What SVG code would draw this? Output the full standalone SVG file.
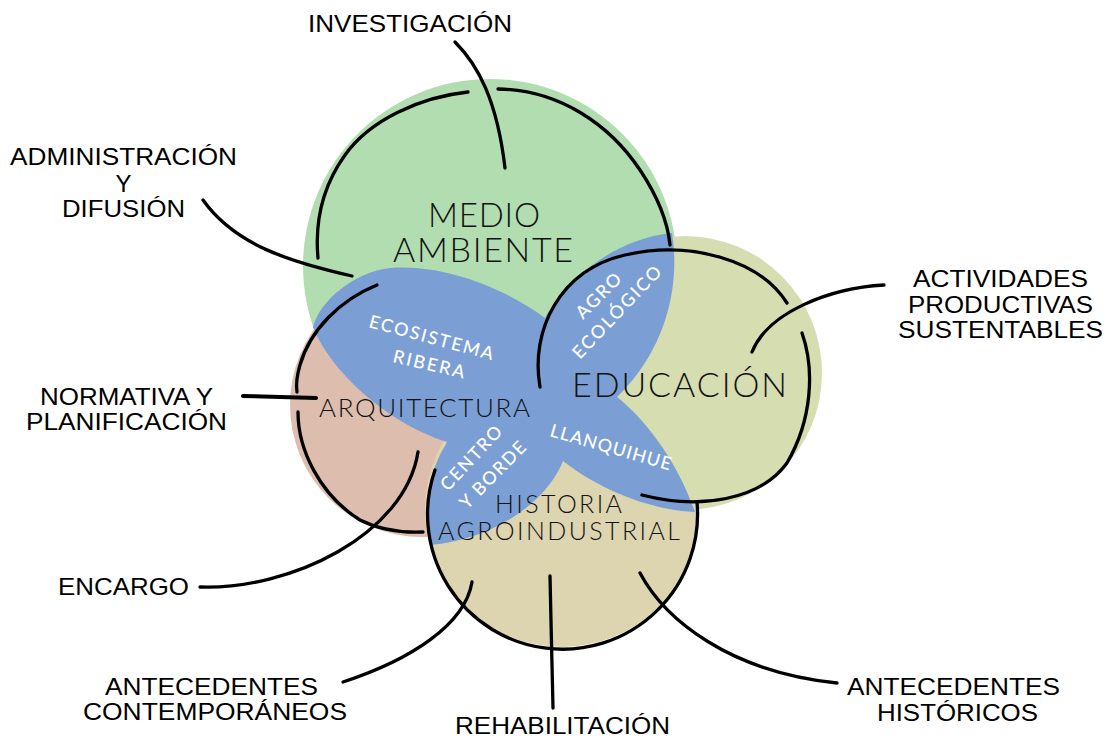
<svg xmlns="http://www.w3.org/2000/svg" width="1112" height="738" viewBox="0 0 1112 738">
<style>
.lbl{font-family:"Liberation Sans",Arial,sans-serif;font-size:24px;fill:#000;text-anchor:middle}
.ttl{font-family:"Lato","Roboto","Inter","DejaVu Sans",sans-serif;font-weight:300;fill:#111}
.pet{font-family:"Lato","Roboto","Inter","DejaVu Sans",sans-serif;font-size:18px;fill:#fff;font-weight:500}
.ln{fill:none;stroke:#000;stroke-width:3.3;stroke-linecap:round;stroke-linejoin:round}
</style>
<rect width="1112" height="738" fill="#fff"/>
<g id="medio-ambiente"><circle cx="490" cy="266" r="187" fill="#b2ddb0"/></g>
<g id="arquitectura"><circle cx="422" cy="405" r="132" fill="#ddbeae"/></g>
<g id="historia"><circle cx="562" cy="510" r="137" fill="#ddd4b0"/></g>
<g id="educacion"><circle cx="685" cy="373" r="137" fill="#d5ddb1"/></g>
<g id="interseccion">
<path fill="#7b9fd4" d="M447 442 C385 422 330 370 313 327 C320 300 355 272 390 268 C440 264 500 285 545 318 C560 290 605 240 672 233 A187 187 0 0 1 617 397 C640 415 675 455 695 512 C650 510 600 490 563 461 C548 500 495 540 430 545 A137 137 0 0 1 447 442 Z"/>
</g>
<g id="titulos">
<text class="ttl" x="428" y="227" font-size="33" textLength="112" lengthAdjust="spacing">MEDIO</text>
<text class="ttl" x="393" y="262" font-size="34" textLength="180" lengthAdjust="spacing">AMBIENTE</text>
<text class="ttl" x="572" y="397" font-size="34" textLength="215" lengthAdjust="spacing">EDUCACIÓN</text>
<text class="ttl" x="319" y="417" font-size="26" textLength="211" lengthAdjust="spacing">ARQUITECTURA</text>
<text class="ttl" x="495" y="513" font-size="25" textLength="127" lengthAdjust="spacing">HISTORIA</text>
<text class="ttl" x="438" y="540" font-size="25" textLength="242" lengthAdjust="spacing">AGROINDUSTRIAL</text>
</g>
<g id="petalos">
<text class="pet" x="368" y="327" textLength="128" lengthAdjust="spacing" transform="rotate(15 368 327)">ECOSISTEMA</text>
<text class="pet" x="392" y="362" textLength="73" lengthAdjust="spacing" transform="rotate(13 392 362)">RIBERA</text>
<text class="pet" x="583" y="320" textLength="56" lengthAdjust="spacing" transform="rotate(-45 583 320)">AGRO</text>
<text class="pet" x="580" y="360" textLength="120" lengthAdjust="spacing" transform="rotate(-46.5 580 360)">ECOLÓGICO</text>
<text class="pet" x="448" y="492" textLength="81" lengthAdjust="spacing" transform="rotate(-47 448 492)">CENTRO</text>
<text class="pet" x="467" y="510" textLength="86" lengthAdjust="spacing" transform="rotate(-45.5 467 510)">Y BORDE</text>
<text class="pet" x="549" y="436" textLength="125" lengthAdjust="spacing" transform="rotate(16 549 436)">LLANQUIHUE</text>
</g>
<g id="conectores" class="ln">
<path d="M468 92 C420 97 370 120 345 155 C320 190 315 225 318 258"/>
<path d="M498 89 C560 90 610 125 640 170 C660 200 668 225 670 245"/>
<path d="M540 387 C530 330 560 270 625 255 C690 240 760 260 787 303"/>
<path d="M802 333 C815 370 812 420 787 463 C760 500 700 510 642 495"/>
<path d="M435 470 A135 135 0 1 0 697 502"/>
<path d="M377 285 C340 300 310 330 300 365 C297 375 296 385 297 392"/>
<path d="M298 412 C298 450 320 495 360 520 C380 530 400 533 423 532"/>
<path d="M455 42 C478 65 497 100 505 168"/>
<path d="M203 200 C235 245 290 262 352 276"/>
<path d="M243 396 L316 398" stroke-width="4"/>
<path d="M200 587 C290 590 405 535 418 452"/>
<path d="M884 285 C830 288 768 312 752 352"/>
<path d="M472 582 C465 625 410 660 343 682"/>
<path d="M550 576 C551 620 552 670 553 708"/>
<path d="M640 573 C665 620 730 672 837 683"/>
</g>
<g id="investigacion"><text class="lbl" x="410" y="32" textLength="204" lengthAdjust="spacingAndGlyphs">INVESTIGACIÓN</text></g>
<g id="administracion">
<text class="lbl" x="123.5" y="165" textLength="227" lengthAdjust="spacingAndGlyphs">ADMINISTRACIÓN</text>
<text class="lbl" x="123.5" y="192">Y</text>
<text class="lbl" x="123.5" y="217" textLength="123" lengthAdjust="spacingAndGlyphs">DIFUSIÓN</text>
</g>
<g id="normativa">
<text class="lbl" x="126.5" y="405" textLength="173" lengthAdjust="spacingAndGlyphs">NORMATIVA Y</text>
<text class="lbl" x="126.5" y="430" textLength="201" lengthAdjust="spacingAndGlyphs">PLANIFICACIÓN</text>
</g>
<g id="encargo"><text class="lbl" x="123.5" y="595" textLength="131" lengthAdjust="spacingAndGlyphs">ENCARGO</text></g>
<g id="antecedentes-contemporaneos">
<text class="lbl" x="211.5" y="695" textLength="213" lengthAdjust="spacingAndGlyphs">ANTECEDENTES</text>
<text class="lbl" x="215" y="720" textLength="264" lengthAdjust="spacingAndGlyphs">CONTEMPORÁNEOS</text>
</g>
<g id="rehabilitacion"><text class="lbl" x="562.5" y="734" textLength="215" lengthAdjust="spacingAndGlyphs">REHABILITACIÓN</text></g>
<g id="antecedentes-historicos">
<text class="lbl" x="953.5" y="695" textLength="213" lengthAdjust="spacingAndGlyphs">ANTECEDENTES</text>
<text class="lbl" x="957.5" y="721" textLength="161" lengthAdjust="spacingAndGlyphs">HISTÓRICOS</text>
</g>
<g id="actividades">
<text class="lbl" x="1000.5" y="287" textLength="175" lengthAdjust="spacingAndGlyphs">ACTIVIDADES</text>
<text class="lbl" x="1000.5" y="313" textLength="185" lengthAdjust="spacingAndGlyphs">PRODUCTIVAS</text>
<text class="lbl" x="1000.5" y="338" textLength="205" lengthAdjust="spacingAndGlyphs">SUSTENTABLES</text>
</g>
</svg>
